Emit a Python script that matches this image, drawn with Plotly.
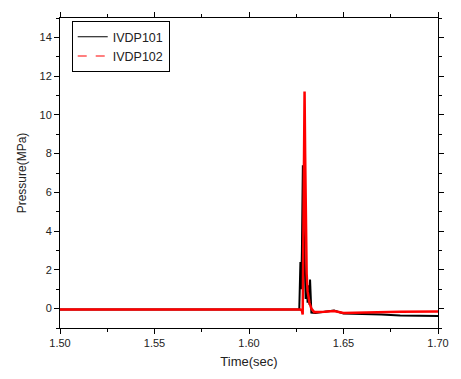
import plotly.graph_objects as go

# IVDP101 (black, solid)
t101 = [1.500, 1.540, 1.580, 1.6200, 1.6266, 1.6272, 1.6276, 1.6280, 1.6285, 1.6290,
        1.6295, 1.6300, 1.6305, 1.6310, 1.6315, 1.6320, 1.6323, 1.6326, 1.6330,
        1.6350, 1.6400, 1.6450, 1.6500, 1.6600, 1.6700, 1.6800, 1.6900, 1.7000]
v101 = [-0.05, -0.05, -0.05, -0.05, -0.05, 2.4, 1.0, 3.0, 7.4, 4.0,
        1.5, 0.5, 1.6, 0.3, 1.2, 0.2, 1.5, 0.0, -0.2,
        -0.22, -0.15, -0.1, -0.25, -0.27, -0.3, -0.35, -0.38, -0.38]

# IVDP102 (red, dashed)
t102 = [1.500, 1.550, 1.600, 1.6272, 1.6280, 1.6284, 1.6288, 1.6292, 1.6294, 1.6297,
        1.6300, 1.6305, 1.6310, 1.6315, 1.6320, 1.6330, 1.6345, 1.6400,
        1.6450, 1.6500, 1.6600, 1.6700, 1.6800, 1.7000]
v102 = [-0.05, -0.05, -0.05, -0.05, -0.1, -0.3, 4.0, 10.5, 11.2, 8.0,
        4.0, 1.8, 0.9, 0.6, 0.3, 0.0, -0.18, -0.16,
        -0.12, -0.23, -0.2, -0.18, -0.16, -0.15]

x_ticks = [1.50, 1.55, 1.60, 1.65, 1.70]
x_ticklabels = ["1.50", "1.55", "1.60", "1.65", "1.70"]
y_ticks = [0, 2, 4, 6, 8, 10, 12, 14]

fig = go.Figure()
# data traces (legend handled by proxies)
fig.add_trace(go.Scatter(x=t101, y=v101, mode="lines", name="IVDP101", showlegend=False,
                         line=dict(color="black", width=2)))
fig.add_trace(go.Scatter(x=t102, y=v102, mode="lines", name="IVDP102", showlegend=False,
                         line=dict(color="red", width=2.5)))
# legend proxies
fig.add_trace(go.Scatter(x=[None], y=[None], mode="lines", name="IVDP101",
                         line=dict(color="black", width=1.2)))
fig.add_trace(go.Scatter(x=[None], y=[None], mode="lines", name="IVDP102",
                         line=dict(color="red", width=1.2, dash="dash")))

font_family = "Liberation Sans, Arial"
axis_common = dict(showline=True, linecolor="black", linewidth=1, mirror="ticks",
                   ticks="outside", ticklen=5, tickcolor="black", tickwidth=1,
                   showgrid=False, zeroline=False,
                   tickfont=dict(family=font_family, size=11, color="#222"))

fig.update_xaxes(range=[1.50, 1.70], tickvals=x_ticks, ticktext=x_ticklabels,
                 minor=dict(dtick=0.025, tick0=1.5, ticks="outside", ticklen=3,
                            tickcolor="black", showgrid=False),
                 title=dict(text="Time(sec)", font=dict(family=font_family, size=13, color="#222"),
                            standoff=8),
                 **axis_common)
fig.update_yaxes(range=[-1, 15], tickvals=y_ticks,
                 minor=dict(dtick=1, tick0=0, ticks="outside", ticklen=3,
                            tickcolor="black", showgrid=False),
                 title=dict(text="Pressure(MPa)", font=dict(family=font_family, size=12, color="#222"),
                            standoff=10),
                 **axis_common)

fig.update_layout(
    width=461, height=379,
    margin=dict(l=60, r=13, t=14, b=51),
    plot_bgcolor="white", paper_bgcolor="white",
    showlegend=True,
    legend=dict(x=0.031, y=0.99, xanchor="left", yanchor="top",
                bordercolor="black", borderwidth=1, bgcolor="white",
                font=dict(family=font_family, size=12.5, color="#222"),
                tracegroupgap=0, itemwidth=30),
)

fig.write_html("out.html")
